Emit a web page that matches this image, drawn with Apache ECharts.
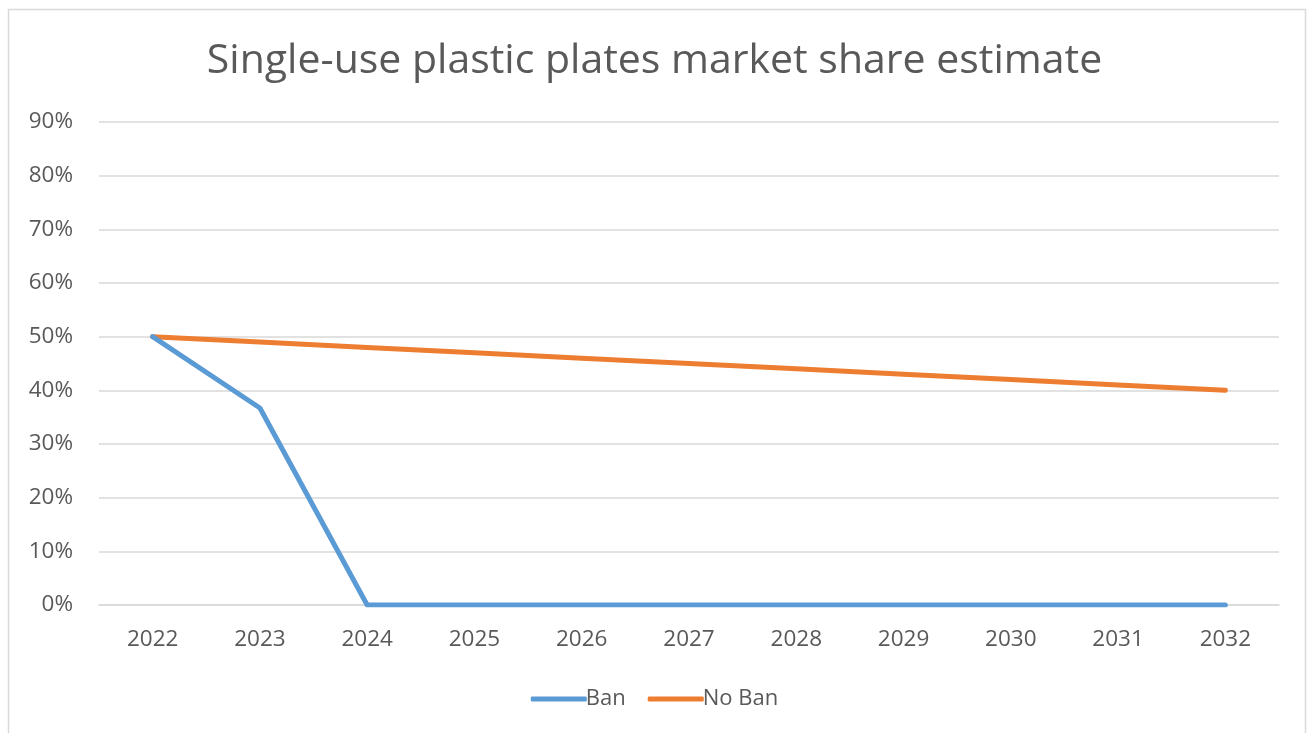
<!DOCTYPE html>
<html><head><meta charset="utf-8">
<script src="https://cdn.jsdelivr.net/npm/echarts@6/dist/echarts.min.js"></script>
<style>html,body{margin:0;padding:0;background:#fff}#c{width:1309px;height:733px}</style>
</head><body><div id="c"></div>
<script>
const categories = ['2022','2023','2024','2025','2026','2027','2028','2029','2030','2031','2032'];
const banValues = [50, 36.7, 0, 0, 0, 0, 0, 0, 0, 0, 0];
const noBanValues = [50, 49, 48, 47, 46, 45, 44, 43, 42, 41, 40];
const seriesNames = ['Ban', 'No Ban'];
const titleText = 'Single-use plastic plates market share estimate';

const chart = echarts.init(document.getElementById('c'), null, {renderer:'canvas'});
const font = '"Open Sans", "Noto Sans", sans-serif';
chart.setOption({
  animation: false,
  backgroundColor: '#fff',
  graphic: [{type:'rect', shape:{x:8.5, y:9.5, width:1297, height:760}, style:{fill:'none', stroke:'#d9d9d9', lineWidth:1.5}, silent:true}],
  title: {text: titleText, left: 'center', top: 36, textStyle:{fontFamily: font, fontSize: 41, fontWeight: 'normal', color:'#595959'}},
  legend: {bottom: 18, left: 'center', itemWidth: 56, itemHeight: 5, itemGap: 22,
    textStyle:{fontFamily: font, fontSize: 22, color:'#595959', padding:[0,0,0,-6]},
    data: seriesNames.map(n => ({name:n, icon:'roundRect'}))},
  grid: {left: 99, right: 30, top: 122, bottom: 128, containLabel: false},
  xAxis: {type:'category', data: categories, boundaryGap: true,
    axisLine:{lineStyle:{color:'#d9d9d9', width:1.5}}, axisTick:{show:false},
    axisLabel:{fontFamily: font, fontSize: 22.5, color:'#595959', margin: 23}},
  yAxis: {type:'value', min:0, max:90, interval:10,
    axisLine:{show:false}, axisTick:{show:false},
    splitLine:{lineStyle:{color:'#d9d9d9', width:1.5}},
    axisLabel:{fontFamily: font, fontSize: 22.5, color:'#595959', formatter: v => v + '%', margin: 26}},
  series: [
    {name: seriesNames[0], type:'line', data: banValues, symbol:'none', lineStyle:{color:'#5b9bd5', width:5, cap:'round', join:'round'}, itemStyle:{color:'#5b9bd5'}, z:3},
    {name: seriesNames[1], type:'line', data: noBanValues, symbol:'none', lineStyle:{color:'#ed7d31', width:5, cap:'round', join:'round'}, itemStyle:{color:'#ed7d31'}, z:2}
  ]
});
</script></body></html>
